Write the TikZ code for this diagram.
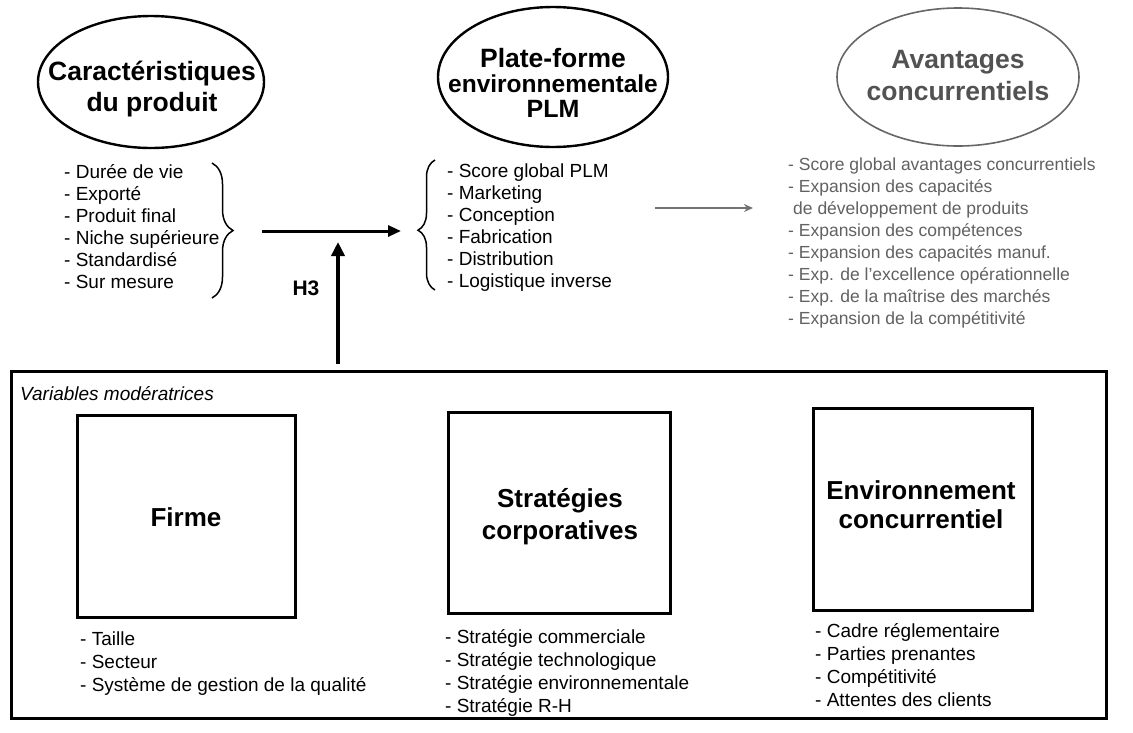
\documentclass[tikz,border=0pt]{standalone}
\usepackage{fontspec}
\setmainfont{Liberation Sans}
\usetikzlibrary{shapes.geometric,arrows.meta,decorations.pathreplacing}

\newcommand\liststrut{\rule{0pt}{18pt}}

\tikzset{
  oval/.style={draw, ellipse, line width=2.4pt, inner sep=0pt},
  softoval/.style={draw=black!60, ellipse, line width=1.6pt, inner sep=0pt},
  heading/.style={inner sep=0pt, align=center, font=\bfseries\fontsize{26.5}{31}\selectfont},
  factorbox/.style={draw, line width=3pt, inner sep=0pt},
  frame/.style={draw, line width=3pt, inner sep=0pt},
  itemlist/.style={anchor=north west, inner sep=0pt, align=left, font=\fontsize{19}{22}\selectfont},
  lowlist/.style={anchor=north west, inner sep=0pt, align=left, font=\fontsize{19}{23}\selectfont},
  softlist/.style={anchor=north west, inner sep=0pt, align=left, text=black!62, font=\fontsize{17.5}{22}\selectfont},
  bracket/.style={decorate, line width=1.5pt},
  mainarrow/.style={line width=3pt, -{Triangle[length=13pt,width=11pt]}},
  modarrow/.style={line width=4.5pt, -{Triangle[length=14pt,width=13pt]}},
  softarrow/.style={draw=black!55, line width=1.6pt, -{Stealth[length=9pt,width=8pt]}}
}

\begin{document}
\begin{tikzpicture}[x=1pt,y=-1pt]
\useasboundingbox (0,0) rectangle (1133,732);

% Top row: the three constructs
\node[oval, minimum width=226pt, minimum height=132pt] (prod) at (151,82) {};
\node[heading] (prodtxt) at (152,89) {Caractéristiques\\du produit};

\node[oval, minimum width=230pt, minimum height=140pt] (plm) at (553,77) {};
\node[inner sep=0pt, align=center, font=\bfseries\fontsize{25}{25}\selectfont] (plmtxt) at (553,83)
  {{\fontsize{26.5}{25}\selectfont Plate-forme}\\{\fontsize{24.5}{25}\selectfont environnementale}\\PLM};

\node[softoval, minimum width=242pt, minimum height=138pt] (avt) at (958,77) {};
\node[heading, text=black!68, font=\bfseries\fontsize{26.5}{32}\selectfont] (avttxt) at (958,76) {Avantages\\concurrentiels};

% Indicator lists
\node[itemlist] (prodlist) at (64,160) {\liststrut- Durée de vie\\- Exporté\\- Produit final\\- Niche supérieure\\- Standardisé\\- Sur mesure};
\node[itemlist] (plmlist) at (447,159) {\liststrut- Score global PLM\\- Marketing\\- Conception\\- Fabrication\\- Distribution\\- Logistique inverse};
\node[softlist] (avtlist) at (788,152) {\liststrut- Score global avantages concurrentiels\\- Expansion des capacités\\\hspace*{5pt}de développement de produits\\- Expansion des compétences\\- Expansion des capacités manuf.\\- Exp. de l'excellence opérationnelle\\- Exp. de la maîtrise des marchés\\- Expansion de la compétitivité};

% Braces grouping the lists
\draw[bracket, decoration={brace, amplitude=21pt, aspect=0.5}] (212,163) -- (212,298);
\draw[bracket, decoration={brace, amplitude=17pt, aspect=0.46}] (435,290) -- (435,160);

% Links between the constructs
\coordinate (linkA) at (262,231);
\coordinate (linkB) at (401,231);
\draw[mainarrow] (linkA) -- (linkB);

\coordinate (linkC) at (655,208);
\coordinate (linkD) at (753,208);
\draw[softarrow] (linkC) -- (linkD);

% Moderating variables
\node[frame, minimum width=1095pt, minimum height=347pt] (mod) at (558.5,544.5) {};
\node[anchor=base west, inner sep=0pt, font=\itshape\fontsize{19}{22}\selectfont] (modtxt) at (20,400) {Variables modératrices};

\coordinate (hbase) at (338,364);
\coordinate (htip) at (338,242);
\draw[modarrow] (hbase) -- (htip);
\node[inner sep=0pt, font=\bfseries\fontsize{21}{21}\selectfont] (hlabel) at (306,288) {H3};

\node[factorbox, minimum width=218pt, minimum height=202pt] (firm) at (186,516) {};
\node[heading, font=\bfseries\fontsize{26}{32}\selectfont] (firmtxt) at (186,517) {Firme};
\node[lowlist] (firmlist) at (80,627) {\liststrut- Taille\\- Secteur\\- Système de gestion de la qualité};

\node[factorbox, minimum width=222pt, minimum height=201pt] (strat) at (559,512.5) {};
\node[heading, font=\bfseries\fontsize{26}{32}\selectfont] (strattxt) at (560,516.5) {Stratégies\\corporatives};
\node[lowlist] (stratlist) at (445,625) {\liststrut- Stratégie commerciale\\- Stratégie technologique\\- Stratégie environnementale\\- Stratégie R-H};

\node[factorbox, minimum width=219pt, minimum height=202pt] (env) at (922.5,509) {};
\node[heading, font=\bfseries\fontsize{26}{29}\selectfont] (envtxt) at (921,504.5) {Environnement\\concurrentiel};
\node[lowlist] (envlist) at (815,619) {\liststrut- Cadre réglementaire\\- Parties prenantes\\- Compétitivité\\- Attentes des clients};

\end{tikzpicture}
\end{document}
